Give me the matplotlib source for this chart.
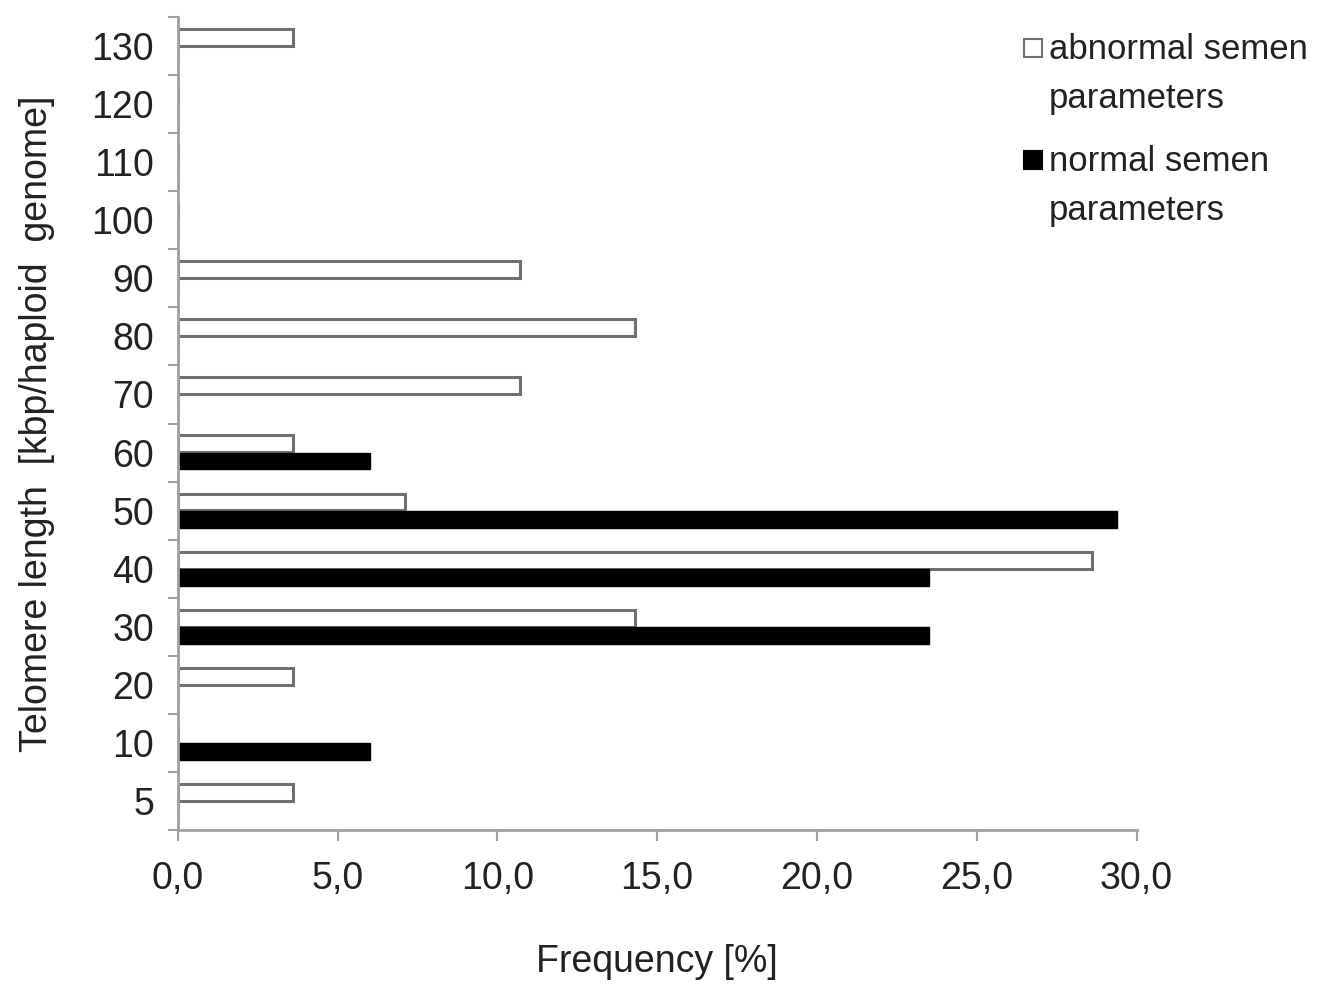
import numpy as np
import matplotlib.pyplot as plt
from matplotlib.patches import Rectangle

plt.rcParams['font.family'] = ['Liberation Sans', 'DejaVu Sans']

# telomere length classes (bottom to top)
lengths = ['5', '10', '20', '30', '40', '50', '60', '70', '80', '90', '100', '110', '120', '130']
abnormal = [3.6, 0, 3.6, 14.3, 28.6, 7.1, 3.6, 10.7, 14.3, 10.7, 0, 0, 0, 3.6]
normal = [0, 6.0, 0, 23.5, 23.5, 29.4, 6.0, 0, 0, 0, 0, 0, 0, 0]
legend_labels = ['abnormal semen\nparameters', 'normal semen\nparameters']

spine_col = '#a0a0a0'
txt_col = '#222222'

fig = plt.figure(figsize=(13.17, 9.85), dpi=100)
ax = fig.add_axes([0.135, 0.157, 0.728, 0.826])

y = np.arange(len(lengths))
h = 0.29
ax.barh(y + h / 2 + 0.005, abnormal, height=h, color='white', edgecolor='#707070', linewidth=2.2)
ax.barh(y - h / 2, normal, height=h, color='black', edgecolor='black', linewidth=1)

ax.set_xlim(0, 30)
ax.set_ylim(-0.5, len(lengths) - 0.5)
ax.set_xticks(np.arange(0, 31, 5))
ax.xaxis.set_major_formatter(plt.FuncFormatter(lambda v, p: ('%.1f' % v).replace('.', ',')))
ax.set_yticks(y)
ax.set_yticklabels(lengths)
ax.set_yticks(np.arange(-0.5, len(lengths)), minor=True)
ax.tick_params(axis='y', which='major', length=0, pad=17, labelsize=27, colors=txt_col)
ax.tick_params(axis='y', which='minor', length=7, width=1.5, color=spine_col, direction='out')
ax.tick_params(axis='x', length=8, width=1.5, color=spine_col, labelsize=27, pad=14, labelcolor=txt_col)

for s in ['top', 'right']:
    ax.spines[s].set_visible(False)
for s in ['left', 'bottom']:
    ax.spines[s].set_color(spine_col)
    ax.spines[s].set_linewidth(2)

ax.set_xlabel('Frequency [%]', fontsize=27, color=txt_col, labelpad=34)
ax.set_ylabel('Telomere length  [kbp/haploid  genome]', fontsize=27, color=txt_col, labelpad=26)

# legend drawn by hand so the square sits on the first text line
W, H = fig.get_size_inches() * fig.dpi
leg_rows = [(48, 'white', '#707070'), (160, 'black', 'black')]
for (yc, fc, ec), lab in zip(leg_rows, legend_labels):
    fig.patches.append(Rectangle((1024 / W, 1 - (yc + 9) / H), 18 / W, 18 / H,
                                 transform=fig.transFigure, facecolor=fc, edgecolor=ec, linewidth=1.5))
    fig.text(1049 / W, 1 - (yc - 15) / H, lab, fontsize=25, color=txt_col,
             va='top', ha='left', linespacing=1.6)

fig.savefig('out.png', dpi=100)
